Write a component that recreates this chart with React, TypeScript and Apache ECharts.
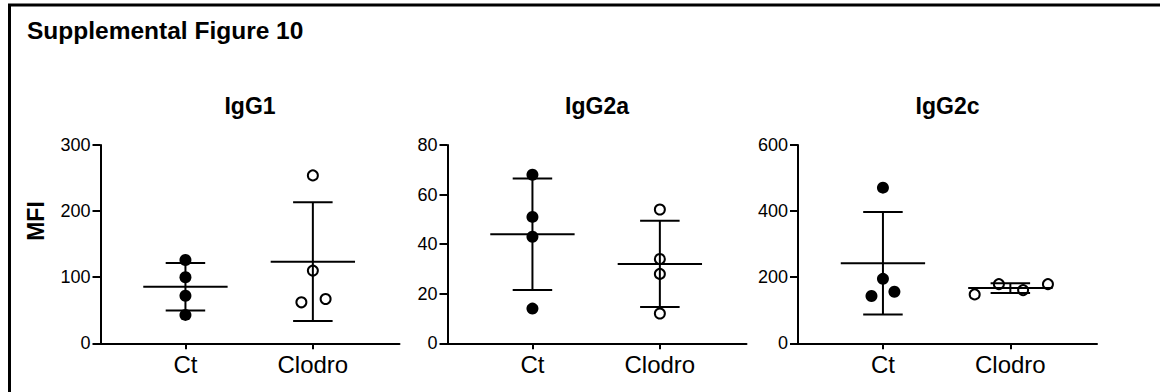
import React, { useEffect, useRef } from "react";
import * as echarts from "echarts";

const categories = ["Ct", "Clodro"];
const panelTitles = ["IgG1", "IgG2a", "IgG2c"];
const figureTitle = "Supplemental Figure 10";
const yAxisName = "MFI";

// individual points (MFI)
const igg1Ct = [126, 100, 72, 43];
const igg1Clodro = [254, 110, 62, 67];
const igg2aCt = [68, 51, 43, 14];
const igg2aClodro = [54, 34, 28, 12];
const igg2cCt = [471, 195, 143, 156];
const igg2cClodro = [148, 179, 161, 179];

// horizontal scatter offsets of the dots (category units)
const igg1CtJitter = [0, 0, 0, 0];
const igg1ClodroJitter = [0, 0, -0.09, 0.1];
const igg2aCtJitter = [0, 0, 0, 0];
const igg2aClodroJitter = [0, 0, 0, 0];
const igg2cCtJitter = [0, 0, -0.09, 0.09];
const igg2cClodroJitter = [-0.28, -0.09, 0.1, 0.295];

// mean and SD [Ct, Clodro]
const igg1Mean = [85.5, 123.5];
const igg1Sd = [35.8, 89.8];
const igg2aMean = [44, 32];
const igg2aSd = [22.5, 17.4];
const igg2cMean = [242, 167];
const igg2cSd = [155, 15];

// y-axis scales
const yMaxes = [300, 80, 600];
const yIntervals = [100, 20, 200];

const FONT = "'Liberation Sans', Arial, sans-serif";

const panels = [
  { ct: igg1Ct, cl: igg1Clodro, ctJ: igg1CtJitter, clJ: igg1ClodroJitter, mean: igg1Mean, sd: igg1Sd },
  { ct: igg2aCt, cl: igg2aClodro, ctJ: igg2aCtJitter, clJ: igg2aClodroJitter, mean: igg2aMean, sd: igg2aSd },
  { ct: igg2cCt, cl: igg2cClodro, ctJ: igg2cCtJitter, clJ: igg2cClodroJitter, mean: igg2cMean, sd: igg2cSd },
];

const gridLefts = [100.5, 447.5, 798];
const GRID_TOP = 145;
const GRID_W = 299;
const GRID_H = 198.3;
const X_MIN = 1 / 3;
const X_MAX = 2.68;

export default function App() {
  const ref = useRef<HTMLDivElement>(null);
  useEffect(() => {
    if (!ref.current) return;
    const chart = echarts.init(ref.current, null, { renderer: "svg" });

    const grid = gridLefts.map((l) => ({ left: l, top: GRID_TOP, width: GRID_W, height: GRID_H }));
    const xAxis = panels.map((_, i) => ({
      type: "value",
      gridIndex: i,
      min: X_MIN,
      max: X_MAX,
      splitLine: { show: false },
      axisLine: { show: true, onZero: false, lineStyle: { color: "#000", width: 2 } },
      axisTick: { show: true, customValues: [1, 2], length: 6, lineStyle: { color: "#000", width: 2 } },
      axisLabel: {
        show: true,
        customValues: [1, 2],
        formatter: (v: number) => categories[Math.round(v) - 1] ?? "",
        color: "#000",
        fontFamily: FONT,
        fontSize: 24,
        margin: 9,
      },
    }));
    const yAxis = panels.map((_, i) => ({
      type: "value",
      gridIndex: i,
      min: 0,
      max: yMaxes[i],
      interval: yIntervals[i],
      splitLine: { show: false },
      axisLine: { show: true, lineStyle: { color: "#000", width: 2 } },
      axisTick: { show: true, length: 8, lineStyle: { color: "#000", width: 2 } },
      axisLabel: { color: "#000", fontFamily: FONT, fontSize: 18, margin: 10 },
    }));

    const series: any[] = [];
    panels.forEach((p, i) => {
      series.push({
        type: "scatter",
        xAxisIndex: i,
        yAxisIndex: i,
        symbol: "circle",
        symbolSize: 12,
        itemStyle: { color: "#000", opacity: 1 },
        data: p.ct.map((v, k) => [1 + p.ctJ[k], v]),
        z: 2,
      });
      series.push({
        type: "scatter",
        xAxisIndex: i,
        yAxisIndex: i,
        symbol: "circle",
        symbolSize: 10,
        itemStyle: { color: "#fff", borderColor: "#000", borderWidth: 2, opacity: 1 },
        data: p.cl.map((v, k) => [2 + p.clJ[k], v]),
        z: 2,
      });
      series.push({
        type: "custom",
        xAxisIndex: i,
        yAxisIndex: i,
        z: 3,
        dimensions: ["x", "mean", "sd"],
        encode: { x: 0, y: 1 },
        data: p.mean.map((m, k) => [k + 1, m, p.sd[k]]),
        renderItem: (params: any, api: any) => {
          const x = api.value(0);
          const m = api.value(1);
          const s = api.value(2);
          const c = (dx: number, y: number) => api.coord([x + dx, y]);
          const segs = [
            [c(-0.331, m), c(0.331, m)],
            [c(0, m - s), c(0, m + s)],
            [c(-0.155, m + s), c(0.155, m + s)],
            [c(-0.155, m - s), c(0.155, m - s)],
          ];
          return {
            type: "group",
            children: segs.map(([a, b]) => ({
              type: "line",
              shape: { x1: a[0], y1: a[1], x2: b[0], y2: b[1] },
              style: { stroke: "#000", lineWidth: 2 },
            })),
          };
        },
      });
    });

    const graphic: any[] = [
      {
        type: "rect",
        shape: { x: 9.5, y: 5, width: 1400, height: 600 },
        style: { fill: "none", stroke: "#000", lineWidth: 3 },
        silent: true,
      },
      {
        type: "text",
        x: 27,
        y: 30,
        style: {
          text: figureTitle,
          font: `bold 24.5px ${FONT}`,
          fill: "#000",
          textAlign: "left",
          textVerticalAlign: "middle",
        },
      },
      {
        type: "text",
        x: 36,
        y: 221,
        rotation: Math.PI / 2,
        style: {
          text: yAxisName,
          font: `bold 23px ${FONT}`,
          fill: "#000",
          textAlign: "center",
          textVerticalAlign: "middle",
        },
      },
      ...panelTitles.map((t, i) => ({
        type: "text",
        x: gridLefts[i] + GRID_W / 2,
        y: 106,
        style: {
          text: t,
          font: `bold 23px ${FONT}`,
          fill: "#000",
          textAlign: "center",
          textVerticalAlign: "middle",
        },
      })),
    ];

    chart.setOption({
      animation: false,
      backgroundColor: "#fff",
      grid,
      xAxis,
      yAxis,
      series,
      graphic,
    });
    return () => chart.dispose();
  }, []);
  return (
    <div
      ref={ref}
      style={{ position: "fixed", left: 0, top: 0, width: 1160, height: 392, background: "#fff" }}
    />
  );
}
